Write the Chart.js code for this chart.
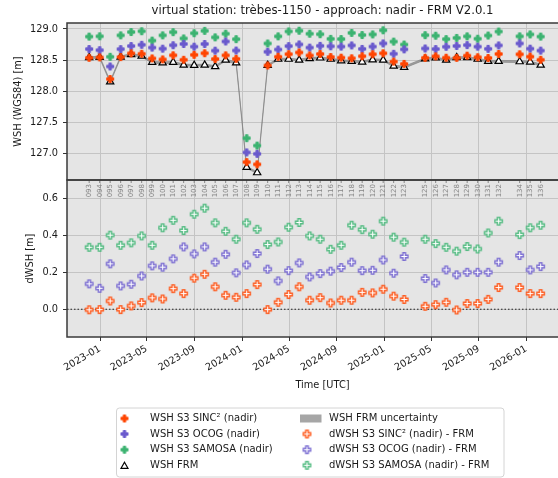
<!DOCTYPE html>
<html>
<head>
<meta charset="utf-8">
<script src="https://cdn.jsdelivr.net/npm/chart.js@4.4.1/dist/chart.umd.min.js"></script>
<style>
html,body{margin:0;padding:0;background:#fff;overflow:hidden;}
#wrap{width:558px;height:478px;overflow:hidden;position:relative;}
canvas{display:block;}
</style>
</head>
<body>
<div id="wrap"><canvas id="c" width="600" height="478"></canvas></div>
<script>
// Sentinel-3 cycles over the virtual station and the pass date of each
const cycles = ['093','094','095','096','097','098','099','100','101','102','103','104','105','106','107','108','109','110','111','112','113','114','115','116','117','118','119','120','121','122','123','125','126','127','128','129','130','131','132','134','135','136'];
const passDates = ['2022-12-04','2022-12-31','2023-01-27','2023-02-23','2023-03-22','2023-04-18','2023-05-15','2023-06-11','2023-07-08','2023-08-04','2023-08-31','2023-09-27','2023-10-24','2023-11-20','2023-12-17','2024-01-13','2024-02-09','2024-03-07','2024-04-03','2024-04-30','2024-05-27','2024-06-23','2024-07-20','2024-08-16','2024-09-12','2024-10-09','2024-11-05','2024-12-02','2024-12-29','2025-01-25','2025-02-21','2025-04-16','2025-05-13','2025-06-09','2025-07-06','2025-08-02','2025-08-29','2025-09-25','2025-10-22','2025-12-15','2026-01-11','2026-02-07'];

// Water surface height (WGS84) [m]
const wshFrm = [128.540,128.545,128.150,128.550,128.590,128.565,128.465,128.455,128.465,128.420,128.415,128.420,128.395,128.500,128.455,126.775,126.690,128.415,128.515,128.515,128.500,128.525,128.535,128.515,128.490,128.480,128.470,128.505,128.500,128.405,128.385,128.520,128.535,128.500,128.540,128.540,128.515,128.480,128.480,128.475,128.470,128.420];
const frmUncertainty = [0.015,0.015,0.015,0.015,0.015,0.015,0.015,0.015,0.015,0.015,0.015,0.015,0.015,0.015,0.015,0.015,0.015,0.015,0.015,0.015,0.015,0.015,0.015,0.015,0.015,0.015,0.015,0.015,0.015,0.015,0.015,0.015,0.015,0.015,0.015,0.015,0.015,0.015,0.015,0.015,0.015,0.015];
const wshSinc2 = [128.537,128.543,128.195,128.548,128.608,128.601,128.527,128.511,128.577,128.505,128.584,128.610,128.517,128.576,128.520,126.860,126.824,128.413,128.553,128.595,128.622,128.574,128.598,128.549,128.539,128.529,128.562,128.594,128.609,128.476,128.438,128.536,128.560,128.538,128.536,128.571,128.546,128.534,128.598,128.593,128.555,128.505];
const wshOcog = [128.678,128.659,128.397,128.677,128.726,128.746,128.701,128.684,128.739,128.759,128.716,128.759,128.651,128.799,128.653,127.016,126.993,128.633,128.669,128.725,128.752,128.701,128.729,128.722,128.717,128.736,128.680,128.717,128.768,128.601,128.672,128.687,128.678,128.714,128.727,128.741,128.716,128.681,128.736,128.767,128.684,128.652];
const wshSamosa = [128.877,128.882,128.553,128.898,128.951,128.964,128.813,128.898,128.949,128.848,128.932,128.970,128.865,128.924,128.836,127.245,127.125,128.767,128.881,128.961,128.972,128.924,128.916,128.841,128.838,128.937,128.903,128.913,128.979,128.797,128.750,128.901,128.892,128.837,128.856,128.881,128.843,128.895,128.959,128.881,128.913,128.877];

// Differences S3 - FRM [m]
const dSinc2 = [-0.003,-0.002,0.045,-0.002,0.018,0.036,0.062,0.056,0.112,0.085,0.169,0.190,0.122,0.076,0.065,0.085,0.134,-0.002,0.038,0.080,0.122,0.049,0.063,0.034,0.049,0.049,0.092,0.089,0.109,0.071,0.053,0.016,0.025,0.038,-0.004,0.031,0.031,0.054,0.118,0.118,0.085,0.085];
const dOcog = [0.138,0.114,0.247,0.127,0.136,0.181,0.236,0.229,0.274,0.339,0.301,0.339,0.256,0.299,0.198,0.241,0.303,0.218,0.154,0.210,0.252,0.176,0.194,0.207,0.227,0.256,0.210,0.212,0.268,0.196,0.287,0.167,0.143,0.214,0.187,0.201,0.201,0.201,0.256,0.292,0.214,0.232];
const dSamosa = [0.337,0.337,0.403,0.348,0.361,0.399,0.348,0.443,0.484,0.428,0.517,0.550,0.470,0.424,0.381,0.470,0.435,0.352,0.366,0.446,0.472,0.399,0.381,0.326,0.348,0.457,0.433,0.408,0.479,0.392,0.365,0.381,0.357,0.337,0.316,0.341,0.328,0.415,0.479,0.406,0.443,0.457];

// Axis ticks
const dateTicks = ['2023-01','2023-05','2023-09','2024-01','2024-05','2024-09','2025-01','2025-05','2025-09','2026-01'];
const wshTicks = [127.0,127.5,128.0,128.5,129.0];
const dwshTicks = [0.0,0.2,0.4,0.6];

const FONT = 'DejaVu Sans';
const TXT = '#1a1a1a';
const C_SINC = 'rgb(255,69,0)';
const C_OCOG = 'rgb(106,90,205)';
const C_SAMOSA = 'rgb(60,179,113)';
const C_SINC_H = 'rgba(255,69,0,0.85)';
const C_OCOG_H = 'rgba(106,90,205,0.85)';
const C_SAMOSA_H = 'rgba(60,179,113,0.85)';

const toTime = s => Date.parse(s + 'T00:00:00Z');
const xs = passDates.map(toTime);
const pts = arr => arr.map((v, i) => ({x: xs[i], y: v}));

// filled / hollow "plus" marker sprites
function plusMarker(fill, stroke, size, lw) {
  const n = Math.ceil(size + lw + 2);
  const c = document.createElement('canvas');
  c.width = n; c.height = n;
  const g = c.getContext('2d');
  const h = size / 2, a = size / 6;
  g.translate(n / 2, n / 2);
  g.beginPath();
  g.moveTo(-a, -h); g.lineTo(a, -h); g.lineTo(a, -a); g.lineTo(h, -a);
  g.lineTo(h, a); g.lineTo(a, a); g.lineTo(a, h); g.lineTo(-a, h);
  g.lineTo(-a, a); g.lineTo(-h, a); g.lineTo(-h, -a); g.lineTo(-a, -a);
  g.closePath();
  g.fillStyle = fill; g.fill();
  g.lineWidth = lw; g.strokeStyle = stroke; g.stroke();
  return c;
}
const mSinc = plusMarker(C_SINC, C_SINC, 7, 1);
const mOcog = plusMarker(C_OCOG, C_OCOG, 7, 1);
const mSamosa = plusMarker(C_SAMOSA, C_SAMOSA, 7, 1);
const hSinc = plusMarker('#fff', C_SINC_H, 7.5, 1.4);
const hOcog = plusMarker('#fff', C_OCOG_H, 7.5, 1.4);
const hSamosa = plusMarker('#fff', C_SAMOSA_H, 7.5, 1.4);

const scatter = (label, data, axis, style, order) => ({
  label, data, yAxisID: axis, showLine: false, order,
  pointStyle: style, pointRadius: 4, pointHoverRadius: 4
});

// panel backgrounds, frames, zero line, cycle labels, title and legend
const panels = {
  id: 'panels',
  beforeDraw(chart) {
    const {ctx, chartArea: a} = chart;
    ctx.save();
    ctx.fillStyle = '#fff';
    ctx.fillRect(0, 0, chart.width, chart.height);
    ctx.fillStyle = '#e5e5e5';
    ctx.fillRect(a.left, a.top, a.right - a.left, a.bottom - a.top);
    ctx.restore();
  },
  beforeDatasetsDraw(chart) {
    const {ctx, chartArea: a, scales} = chart;
    const y0 = scales.yBot.getPixelForValue(0);
    ctx.save();
    ctx.strokeStyle = '#222';
    ctx.lineWidth = 1;
    ctx.setLineDash([1.5, 2]);
    ctx.beginPath();
    ctx.moveTo(a.left, y0); ctx.lineTo(a.right, y0);
    ctx.stroke();
    ctx.restore();
  },
  afterDraw(chart) {
    const {ctx, chartArea: a, scales} = chart;
    const xS = scales.x, yT = scales.yTop, yB = scales.yBot;
    ctx.save();
    // cycle numbers along the top of the lower panel
    ctx.font = `7px ${FONT}`;
    ctx.fillStyle = '#868686';
    ctx.strokeStyle = '#868686';
    ctx.lineWidth = 1;
    cycles.forEach((cy, i) => {
      const px = xS.getPixelForValue(xs[i]);
      ctx.beginPath();
      ctx.moveTo(px, yB.top); ctx.lineTo(px, yB.top + 3);
      ctx.stroke();
      ctx.save();
      ctx.translate(px, yB.top + 4);
      ctx.rotate(-Math.PI / 2);
      ctx.textAlign = 'right';
      ctx.textBaseline = 'middle';
      ctx.fillText(cy, 0, 0.5);
      ctx.restore();
    });
    // panel frames
    ctx.strokeStyle = '#3a3a3a';
    ctx.lineWidth = 1.5;
    [yT, yB].forEach(s => ctx.strokeRect(a.left, s.top, a.right - a.left, s.bottom - s.top));
    // title
    ctx.font = `11.7px ${FONT}`;
    ctx.fillStyle = TXT;
    ctx.textAlign = 'center';
    ctx.textBaseline = 'middle';
    ctx.fillText('virtual station: trèbes-1150 - approach: nadir - FRM V2.0.1', (a.left + a.right) / 2, 11);
    // legend
    const L = {x: 116.5, y: 408, w: 387.5, h: 69};
    ctx.beginPath();
    ctx.roundRect(L.x, L.y, L.w, L.h, 3);
    ctx.fillStyle = 'rgba(255,255,255,0.85)';
    ctx.fill();
    ctx.strokeStyle = '#d4d4d4';
    ctx.lineWidth = 1;
    ctx.stroke();
    const rows = [418.5, 434, 449.7, 465.3];
    const col1 = [[mSinc, 'WSH S3 SINC² (nadir)'], [mOcog, 'WSH S3 OCOG (nadir)'], [mSamosa, 'WSH S3 SAMOSA (nadir)'], ['tri', 'WSH FRM']];
    const col2 = [['band', 'WSH FRM uncertainty'], [hSinc, 'dWSH S3 SINC² (nadir) - FRM'], [hOcog, 'dWSH S3 OCOG (nadir) - FRM'], [hSamosa, 'dWSH S3 SAMOSA (nadir) - FRM']];
    ctx.font = `10px ${FONT}`;
    ctx.textAlign = 'left';
    ctx.textBaseline = 'middle';
    const mark = (m, cx, cy) => {
      if (m === 'tri') {
        ctx.fillStyle = '#fff';
        ctx.strokeStyle = '#000';
        ctx.lineWidth = 1.2;
        Chart.helpers.drawPoint(ctx, {pointStyle: 'triangle', radius: 4, rotation: 0, borderWidth: 1.2}, cx, cy + 1);
      } else if (m === 'band') {
        ctx.fillStyle = 'rgba(128,128,128,0.7)';
        ctx.fillRect(cx - 7, cy - 4, 21.5, 8);
      } else {
        ctx.drawImage(m, cx - m.width / 2, cy - m.height / 2);
      }
    };
    col1.forEach(([m, t], i) => { mark(m, 124.5, rows[i]); ctx.fillStyle = TXT; ctx.fillText(t, 150, rows[i]); });
    col2.forEach(([m, t], i) => { mark(m, 307, rows[i]); ctx.fillStyle = TXT; ctx.fillText(t, 329, rows[i]); });
    ctx.restore();
  }
};

const tickFont = {family: FONT, size: 9.8};

new Chart(document.getElementById('c'), {
  type: 'line',
  data: {
    datasets: [
      scatter('WSH S3 SINC² (nadir)', pts(wshSinc2), 'yTop', mSinc, 0),
      scatter('WSH S3 OCOG (nadir)', pts(wshOcog), 'yTop', mOcog, 1),
      scatter('WSH S3 SAMOSA (nadir)', pts(wshSamosa), 'yTop', mSamosa, 2),
      {
        label: 'WSH FRM', data: pts(wshFrm), yAxisID: 'yTop', showLine: false, order: 3,
        pointStyle: 'triangle', pointRadius: 4.2, pointHoverRadius: 4.2,
        pointBackgroundColor: '#fff', pointBorderColor: '#000', pointBorderWidth: 1.2
      },
      {
        label: 'FRM upper', data: pts(wshFrm.map((v, i) => v + frmUncertainty[i])), yAxisID: 'yTop', order: 5,
        pointRadius: 0, borderColor: 'rgba(128,128,128,0.8)', borderWidth: 0.8, fill: false, tension: 0
      },
      {
        label: 'WSH FRM uncertainty', data: pts(wshFrm.map((v, i) => v - frmUncertainty[i])), yAxisID: 'yTop', order: 4,
        pointRadius: 0, borderColor: 'rgba(128,128,128,0.8)', borderWidth: 0.8,
        fill: '-1', backgroundColor: 'rgba(128,128,128,0.7)', tension: 0
      },
      scatter('dWSH S3 SINC² (nadir) - FRM', pts(dSinc2), 'yBot', hSinc, 6),
      scatter('dWSH S3 OCOG (nadir) - FRM', pts(dOcog), 'yBot', hOcog, 7),
      scatter('dWSH S3 SAMOSA (nadir) - FRM', pts(dSamosa), 'yBot', hSamosa, 8)
    ]
  },
  options: {
    responsive: false,
    animation: false,
    devicePixelRatio: 1,
    events: [],
    layout: {padding: {top: 23, right: 22, bottom: 86, left: 0}},
    plugins: {legend: {display: false}, tooltip: {enabled: false}, title: {display: false}},
    scales: {
      x: {
        type: 'linear',
        min: toTime('2022-10-08'),
        max: toTime('2026-05-14'),
        afterBuildTicks: s => { s.ticks = dateTicks.map(m => ({value: toTime(m + '-01')})); },
        ticks: {
          autoSkip: false, minRotation: 30, maxRotation: 30, padding: 2,
          font: tickFont, color: TXT,
          callback: (v, i) => dateTicks[i]
        },
        grid: {color: '#c4c4c4', lineWidth: 1, tickLength: 4, tickColor: '#333'},
        border: {display: false},
        title: {display: true, text: 'Time [UTC]', font: tickFont, color: TXT, padding: {top: 0, bottom: 1}},
        afterFit: s => { s.height = 55; }
      },
      // the lower panel is listed first: stacked left axes are laid out bottom-up
      yBot: {
        type: 'linear', position: 'left', stack: 'panels', stackWeight: 1,
        min: -0.151, max: 0.703,
        afterBuildTicks: s => { s.ticks = dwshTicks.map(v => ({value: v})); },
        ticks: {padding: 5, font: tickFont, color: TXT, callback: v => v.toFixed(1)},
        grid: {color: '#c4c4c4', lineWidth: 1, tickLength: 4, tickColor: '#333'},
        border: {display: false},
        title: {display: true, text: 'dWSH [m]', font: tickFont, color: TXT, padding: {top: 25, bottom: 0}},
        afterFit: s => { s.width = 67; }
      },
      yTop: {
        type: 'linear', position: 'left', stack: 'panels', stackWeight: 1,
        min: 126.572, max: 129.096,
        afterBuildTicks: s => { s.ticks = wshTicks.map(v => ({value: v})); },
        ticks: {padding: 5, font: tickFont, color: TXT, callback: v => v.toFixed(1)},
        grid: {color: '#c4c4c4', lineWidth: 1, tickLength: 4, tickColor: '#333'},
        border: {display: false},
        title: {display: true, text: 'WSH (WGS84) [m]', font: tickFont, color: TXT, padding: {top: 13, bottom: 0}},
        afterFit: s => { s.width = 67; }
      }
    }
  },
  plugins: [panels]
});
</script>
</body>
</html>
